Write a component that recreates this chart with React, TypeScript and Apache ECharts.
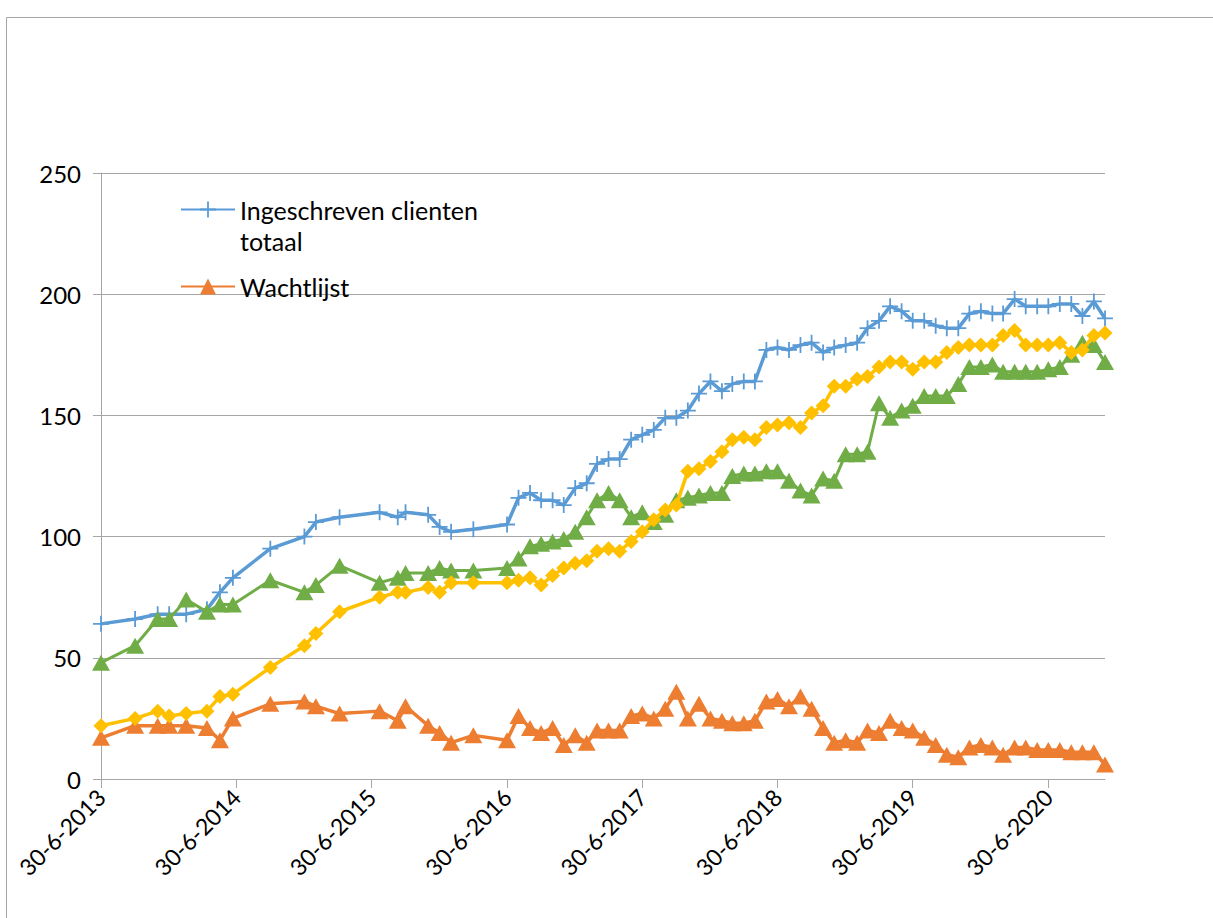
import React, { useEffect, useRef } from "react";
import * as echarts from "echarts";

const DATES = [
  "2013-06-30", "2013-09-30", "2013-11-30", "2013-12-31", "2014-02-15", "2014-04-12",
  "2014-05-17", "2014-06-21", "2014-09-30", "2014-12-31", "2015-01-31", "2015-04-05",
  "2015-07-22", "2015-09-09", "2015-09-30", "2015-11-30", "2015-12-31", "2016-01-31",
  "2016-03-31", "2016-06-30",
  "2016-07-31", "2016-08-31", "2016-09-30", "2016-10-31", "2016-11-30", "2016-12-31",
  "2017-01-31", "2017-02-28", "2017-03-31", "2017-04-30", "2017-05-31", "2017-06-30",
  "2017-07-31", "2017-08-31", "2017-09-30", "2017-10-31", "2017-11-30", "2017-12-31",
  "2018-01-31", "2018-02-28", "2018-03-31", "2018-04-30", "2018-05-31", "2018-06-30",
  "2018-07-31", "2018-08-31", "2018-09-30", "2018-10-31", "2018-11-30", "2018-12-31",
  "2019-01-31", "2019-02-28", "2019-03-31", "2019-04-30", "2019-05-31", "2019-06-30",
  "2019-07-31", "2019-08-31", "2019-09-30", "2019-10-31", "2019-11-30", "2019-12-31",
  "2020-01-31", "2020-02-29", "2020-03-31", "2020-04-30", "2020-05-31", "2020-06-30",
  "2020-07-31", "2020-08-31", "2020-09-30", "2020-10-31", "2020-11-30",
];

const INGESCHREVEN = [
  64, 66, 68, 68, 68, 70, 77, 83, 95, 100, 106, 108,
  110, 108, 110, 109, 104, 102, 103, 105,
  116, 118, 115, 115, 113, 120, 122,
  130, 132, 132, 140, 142, 144, 149, 149, 152, 159, 164, 160, 163, 164, 164, 177, 178, 177, 179, 180, 176, 178, 179,
  180, 186, 189, 195, 193, 189, 189, 187, 186, 186, 192, 193, 192, 192, 198, 195, 195, 195, 196, 196, 191, 197, 190,
];

const WACHTLIJST = [
  17, 22, 22, 22, 22, 21, 16, 25, 31, 32, 30, 27,
  28, 24, 30, 22, 19, 15, 18, 16,
  26, 21, 19, 21, 14, 18, 15,
  20, 20, 20, 26, 27, 25, 29, 36, 25, 31, 25, 24, 23, 23, 24, 32, 33, 30, 34, 29, 21, 15, 16,
  15, 20, 19, 24, 21, 20, 17, 14, 10, 9, 13, 14, 13, 10, 13, 13, 12, 12, 12, 11, 11, 11, 6,
];

const SERIE3 = [
  48, 55, 66, 66, 74, 69, 72, 72, 82, 77, 80, 88,
  81, 83, 85, 85, 87, 86, 86, 87,
  91, 96, 97, 98, 99, 102, 108,
  115, 118, 115, 108, 110, 106, 109, 115, 116, 117, 118, 118, 125, 126, 126, 127, 127, 123, 119, 117, 124, 123, 134,
  134, 135, 155, 149, 152, 154, 158, 158, 158, 163, 170, 170, 171, 168, 168, 168, 168, 169, 170, 175, 180, 179, 172,
];

const SERIE4 = [
  22, 25, 28, 26, 27, 28, 34, 35, 46, 55, 60, 69,
  75, 77, 77, 79, 77, 81, 81, 81,
  82, 83, 80, 84, 87, 89, 90,
  94, 95, 94, 98, 102, 107, 111, 113, 127, 128, 131, 135, 140, 141, 140, 145, 146, 147, 145, 151, 154, 162, 162,
  165, 166, 170, 172, 172, 169, 172, 172, 176, 178, 179, 179, 179, 183, 185, 179, 179, 179, 180, 176, 177, 183, 184,
];

const TICK_DATES = [
  "2013-06-30", "2014-06-30", "2015-06-30", "2016-06-30",
  "2017-06-30", "2018-06-30", "2019-06-30", "2020-06-30",
];
const TICK_LABELS = [
  "30-6-2013", "30-6-2014", "30-6-2015", "30-6-2016",
  "30-6-2017", "30-6-2018", "30-6-2019", "30-6-2020",
];
const X_START = "2013-06-30";
const X_END = "2020-11-30";

const SERIES_NAMES = ["Ingeschreven clienten totaal", "Wachtlijst", "Reeks3", "Reeks4"];

const ts = (s: string) =>
  Date.UTC(Number(s.slice(0, 4)), Number(s.slice(5, 7)) - 1, Number(s.slice(8, 10)));

const FONT = "Lato";
const PLUS = "path://M7.1,0h1.8v7.1h7.1v1.8h-7.1v7.1h-1.8v-7.1h-7.1v-1.8h7.1z";

export default function App() {
  const ref = useRef<HTMLDivElement>(null);

  useEffect(() => {
    document.body.style.margin = "0";
    if (!ref.current) return;
    const chart = echarts.init(ref.current, undefined, { renderer: "svg" });
    const tickTs = TICK_DATES.map(ts);
    const pairs = (vals: number[]) => DATES.map((d, i) => [ts(d), vals[i]]);

    const mk = (name: string, vals: number[], color: string, symbol: string, size: any, width: number, z: number) => ({
      name,
      type: "line",
      data: pairs(vals),
      symbol,
      symbolSize: size,
      showSymbol: true,
      lineStyle: { color, width },
      itemStyle: { color, borderColor: color, borderWidth: 0 },
      z,
      emphasis: { disabled: true },
    });

    chart.setOption({
      animation: false,
      backgroundColor: "#ffffff",
      textStyle: { fontFamily: FONT },
      graphic: [
        {
          type: "rect",
          silent: true,
          z: -10,
          shape: { x: 6.5, y: 17.5, width: 1400, height: 1100 },
          style: { fill: "none", stroke: "#A6A6A6", lineWidth: 1 },
        },
      ],
      grid: { left: 101, top: 173, right: 108, bottom: 139, containLabel: false },
      legend: {
        orient: "vertical",
        left: 180,
        top: 163,
        padding: 0,
        itemWidth: 54,
        itemHeight: 20,
        itemGap: 15,
        selectedMode: false,
        data: [{ name: SERIES_NAMES[0] }, { name: SERIES_NAMES[1] }],
        formatter: (n: string) => (n === SERIES_NAMES[0] ? "\nIngeschreven clienten\ntotaal" : n),
        textStyle: { fontFamily: FONT, fontSize: 25, color: "#000", lineHeight: 31 },
      },
      xAxis: {
        type: "value",
        min: ts(X_START),
        max: ts(X_END),
        axisLine: { show: true, lineStyle: { color: "#A6A6A6", width: 1 } },
        axisTick: { show: true, length: 9, lineStyle: { color: "#A6A6A6" }, customValues: tickTs },
        splitLine: { show: false },
        axisLabel: {
          customValues: tickTs,
          rotate: 45,
          margin: 14,
          fontFamily: FONT,
          fontSize: 23,
          color: "#000",
          formatter: (v: number) => {
            const i = tickTs.findIndex((t) => Math.abs(t - v) < 86400000);
            return i >= 0 ? TICK_LABELS[i] : "";
          },
        },
      },
      yAxis: {
        type: "value",
        min: 0,
        max: 250,
        interval: 50,
        axisLine: { show: true, lineStyle: { color: "#A6A6A6", width: 1 } },
        axisTick: { show: true, length: 8, lineStyle: { color: "#A6A6A6" } },
        splitLine: { show: true, lineStyle: { color: "#A6A6A6", width: 1 } },
        axisLabel: { margin: 20, fontFamily: FONT, fontSize: 24, color: "#000" },
      },
      series: [
        mk(SERIES_NAMES[0], INGESCHREVEN, "#5B9BD5", PLUS, 16, 3.5, 2),
        mk(SERIES_NAMES[1], WACHTLIJST, "#ED7D31", "triangle", [18, 16], 3.5, 3),
        mk(SERIES_NAMES[2], SERIE3, "#70AD47", "triangle", [18, 16], 3, 4),
        mk(SERIES_NAMES[3], SERIE4, "#FFC000", "diamond", [15, 15], 3.5, 5),
      ],
    });

    return () => chart.dispose();
  }, []);

  return <div ref={ref} style={{ width: 1213, height: 918 }} />;
}
